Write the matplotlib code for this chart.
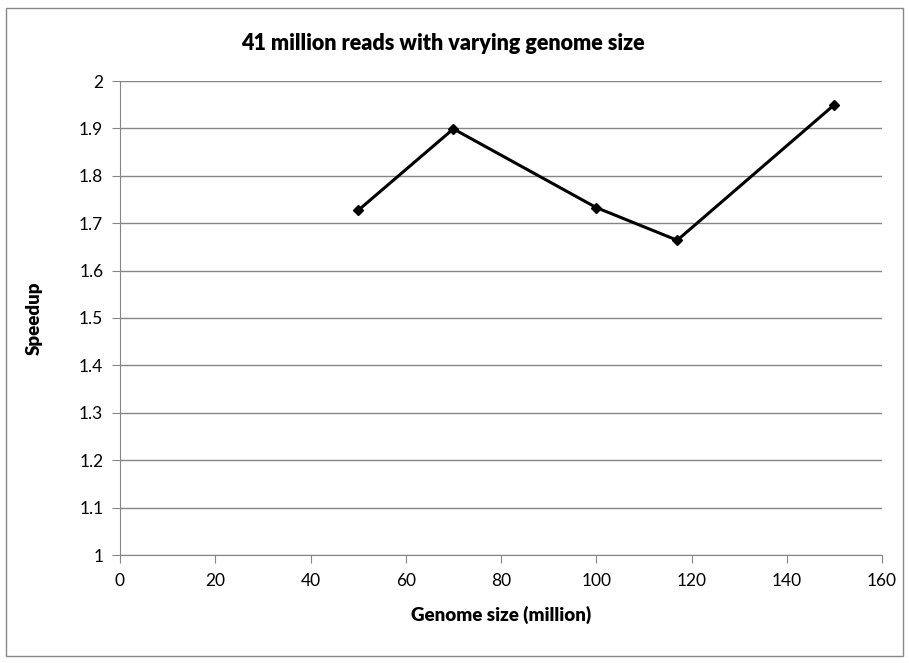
import matplotlib
matplotlib.use("Agg")
import matplotlib.pyplot as plt
from matplotlib.patches import Rectangle

# donnees
genome_size = [50, 70, 100, 117, 150]
speedup = [1.727, 1.899, 1.733, 1.664, 1.950]
x_ticks = [0, 20, 40, 60, 80, 100, 120, 140, 160]
y_ticks = [1, 1.1, 1.2, 1.3, 1.4, 1.5, 1.6, 1.7, 1.8, 1.9, 2]
y_labels = ["1", "1.1", "1.2", "1.3", "1.4", "1.5", "1.6", "1.7", "1.8", "1.9", "2"]

plt.rcParams['font.family'] = ['Lato', 'DejaVu Sans']

W, H = 909, 663
fig = plt.figure(figsize=(W / 100, H / 100), dpi=100)

# cadre gris autour du graphique (style Excel)
fig.patches.append(Rectangle((6 / W, 1 - 656 / H), 897 / W, 648 / H,
                             transform=fig.transFigure, fill=False,
                             edgecolor="#888888", linewidth=1))

left, right, top, bottom = 120, 882, 81, 555
ax = fig.add_axes([left / W, 1 - bottom / H, (right - left) / W, (bottom - top) / H])

ax.plot(genome_size, speedup, color="black", linewidth=2.2,
        marker="D", markersize=5.5, zorder=3)

ax.set_xlim(0, 160)
ax.set_ylim(1, 2)
ax.set_xticks(x_ticks)
ax.set_yticks(y_ticks)
ax.set_yticklabels(y_labels)
ax.grid(axis="y", color="#868686", linewidth=1)
ax.set_axisbelow(True)

for s in ["top", "right"]:
    ax.spines[s].set_visible(False)
for s in ["left", "bottom"]:
    ax.spines[s].set_color("#868686")
ax.tick_params(axis="both", colors="#868686", labelcolor="black", labelsize=12.5, length=6)
ax.tick_params(axis="y", pad=6)
ax.tick_params(axis="x", pad=7)

ax.set_xlabel("Genome size (million)", fontsize=13.5, fontweight="heavy", labelpad=12)
ax.set_ylabel("Speedup", fontsize=13.5, fontweight="heavy", labelpad=26)
fig.text(443 / W, 1 - 43 / H, "41 million reads with varying genome size",
         ha="center", va="center", fontsize=15.5, fontweight="heavy")

fig.savefig("out.png", dpi=100)
